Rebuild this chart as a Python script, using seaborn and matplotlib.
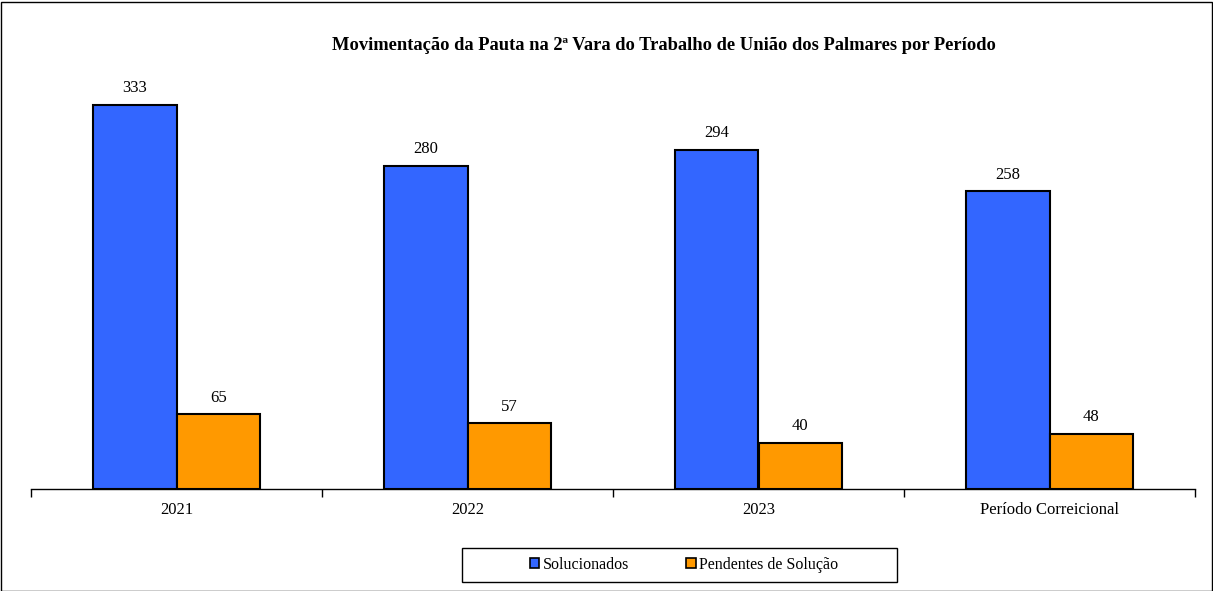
import matplotlib
matplotlib.use("Agg")
import matplotlib.pyplot as plt
import seaborn as sns
import pandas as pd
import numpy as np
from matplotlib.patches import Rectangle

categories = ["2021", "2022", "2023", "Período Correicional"]
solucionados = [333, 280, 294, 258]
pendentes = [65, 57, 40, 48]
series_names = ["Solucionados", "Pendentes de Solução"]
colors = ["#3366FF", "#FF9900"]

df = pd.DataFrame({
    "Categoria": categories * 2,
    "Valor": solucionados + pendentes,
    "Série": [series_names[0]] * 4 + [series_names[1]] * 4,
})

sns.set_theme(style="white")
plt.rcParams["font.family"] = ["Liberation Serif", "DejaVu Serif"]
plt.rcParams["text.color"] = "black"
plt.rcParams["xtick.color"] = "black"

fig = plt.figure(figsize=(12.13, 5.91), dpi=100)
ax = fig.add_axes([31 / 1213, 1 - 489 / 591, (1195 - 31) / 1213, (489 - 70) / 591])

sns.barplot(data=df, x="Categoria", y="Valor", hue="Série", palette=colors,
            order=categories, hue_order=series_names, width=0.574, saturation=1,
            edgecolor="black", linewidth=1.5, ax=ax, legend=False)

ax.set_ylim(0, 363)
ax.set_xlim(-0.5, 3.5)
for s in ["top", "right", "left"]:
    ax.spines[s].set_visible(False)
ax.spines["bottom"].set_color("black")
ax.spines["bottom"].set_linewidth(1.0)
ax.set_yticks([])
ax.set_xlabel("")
ax.set_ylabel("")

ax.set_xticks(np.arange(-0.5, 4.0, 1.0))
ax.set_xticklabels([])
ax.set_xticks(np.arange(len(categories)), minor=True)
ax.set_xticklabels(categories, minor=True, fontsize=12, color="black")
ax.tick_params(axis="x", which="major", direction="out", length=6, width=1, color="black", bottom=True)
ax.tick_params(axis="x", which="minor", length=0, pad=9, bottom=True)

for cont in ax.containers:
    ax.bar_label(cont, padding=6, fontsize=12, color="black")

fig.suptitle("Movimentação da Pauta na 2ª Vara do Trabalho de União dos Palmares por Período",
             x=664 / 1213, y=1 - 46 / 591, va="center", fontsize=13.3, fontweight="bold",
             color="black")

# legend box
fig.patches.append(Rectangle((462 / 1213, 1 - 582 / 591), (897 - 462) / 1213, (582 - 548) / 591,
                             transform=fig.transFigure, fill=False,
                             edgecolor="black", linewidth=1.0))
handles = [Rectangle((0, 0), 1, 1, facecolor=c, edgecolor="black", linewidth=1.2) for c in colors]
leg = fig.legend(handles, series_names, loc="center",
                 bbox_to_anchor=(684 / 1213, 1 - 565 / 591),
                 ncol=2, frameon=False, fontsize=11.5,
                 handlelength=0.6, handleheight=0.6, handletextpad=0.2,
                 columnspacing=3.6)

fig.patches.append(Rectangle((0.5 / 1213, 0.5 / 591), 1211 / 1213, 589 / 591,
                             transform=fig.transFigure, fill=False,
                             edgecolor="black", linewidth=1.0))

fig.savefig("out.png", dpi=100)
